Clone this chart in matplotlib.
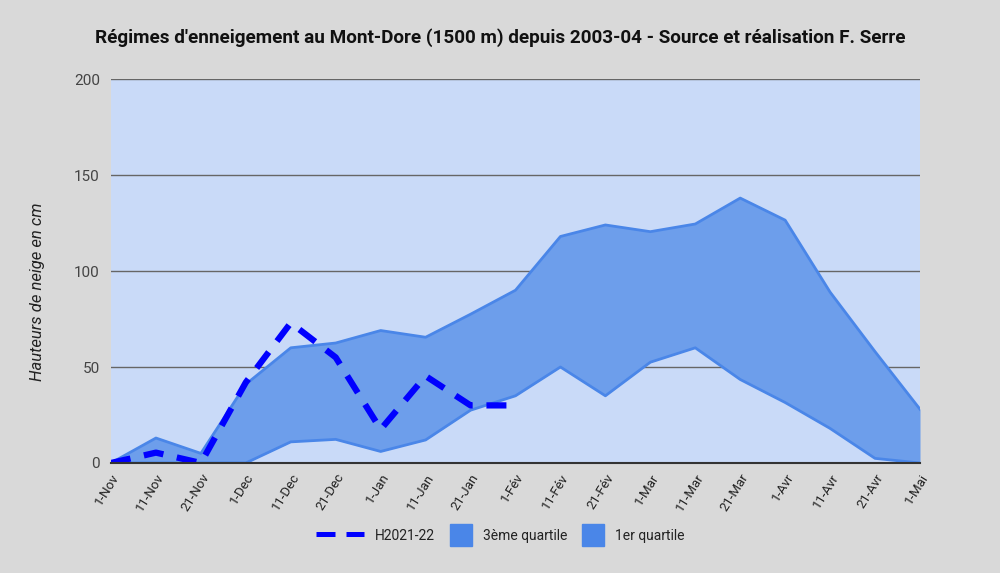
import matplotlib
matplotlib.use("Agg")
import matplotlib.pyplot as plt
from matplotlib.lines import Line2D
from matplotlib.patches import Patch, Rectangle
from matplotlib.legend_handler import HandlerPatch

plt.rcParams['font.family'] = ['Roboto', 'DejaVu Sans']

categories = ['1-Nov', '11-Nov', '21-Nov', '1-Dec', '11-Dec', '21-Dec', '1-Jan', '11-Jan',
              '21-Jan', '1-Fév', '11-Fév', '21-Fév', '1-Mar', '11-Mar', '21-Mar', '1-Avr',
              '11-Avr', '21-Avr', '1-Mai']
q3 = [0, 13, 5, 41, 60, 62.5, 69, 65.5, 77.5, 90, 118, 124, 120.5, 124.5, 138, 126.5, 89, 58, 28]
q1 = [0, 0, 0, 0, 11, 12.3, 6, 12, 27.5, 35, 50, 35, 52.5, 60, 43.5, 31.5, 18, 2.4, 0]
h2021 = [0, 5.4, 0, 42, 73, 55, 17.5, 45.3, 30, 30]
yticks = [0, 50, 100, 150, 200]

fig = plt.figure(figsize=(10, 5.73), dpi=100, facecolor='#d9d9d9')
ax = fig.add_axes([0.111, 0.192, 0.809, 0.670])
ax.set_facecolor('#c9daf8')

x = list(range(len(categories)))
ax.fill_between(x, q1, q3, color='#6d9eeb', linewidth=0, zorder=2)
ax.plot(x, q3, color='#4a86e8', lw=2, zorder=3)
ax.plot(x, q1, color='#4a86e8', lw=2, zorder=3)
ax.plot(range(len(h2021)), h2021, color='#0000ff', lw=4.5, dashes=(3.2, 2.2), zorder=4)

ax.set_xlim(0, len(categories) - 1)
ax.set_ylim(0, 200)
ax.set_yticks(yticks)
ax.set_yticklabels([str(v) for v in yticks], fontsize=11, color='#444444')
ax.set_xticks(x)
ax.set_xticklabels(categories, rotation=58, ha='right', rotation_mode='anchor',
                   fontsize=9.5, color='#222222')
ax.tick_params(axis='both', length=0, pad=8)
ax.tick_params(axis='x', pad=6)
ax.grid(axis='y', color='#666666', lw=1, zorder=1)
ax.set_axisbelow(True)
for s in ['top', 'right', 'left']:
    ax.spines[s].set_visible(False)
ax.spines['bottom'].set_color('#333333')
ax.spines['bottom'].set_linewidth(1.5)
ax.spines['bottom'].set_zorder(5)

ax.set_ylabel('Hauteurs de neige en cm', fontsize=12, style='italic', color='#222222')
ax.yaxis.set_label_coords(-0.082, 0.445)

fig.text(0.5, 0.934, "Régimes d'enneigement au Mont-Dore (1500 m) depuis 2003-04 - Source et réalisation F. Serre",
         ha='center', va='center', fontsize=13.6, fontweight='bold', color='#111111')


def small_square(legend, orig_handle, xdescent, ydescent, width, height, fontsize):
    w = 16
    h = 16
    return Rectangle((width - w - xdescent, height / 2 - h / 2 - ydescent), w, h)


handles = [Line2D([0], [0], color='#0000ff', lw=3.6, dashes=(3.8, 2.2)),
           Patch(facecolor='#4a86e8', edgecolor='#4a86e8'),
           Patch(facecolor='#4a86e8', edgecolor='#4a86e8')]
fig.legend(handles, ['H2021-22', '3ème quartile', '1er quartile'], loc='center',
           bbox_to_anchor=(0.5, 0.066), ncol=3, frameon=False, fontsize=10,
           handlelength=3.5, handleheight=1.2, handletextpad=0.75, columnspacing=-0.8,
           labelcolor='#222222',
           handler_map={Patch: HandlerPatch(patch_func=small_square)})

fig.savefig('out.png', dpi=100, facecolor=fig.get_facecolor())
